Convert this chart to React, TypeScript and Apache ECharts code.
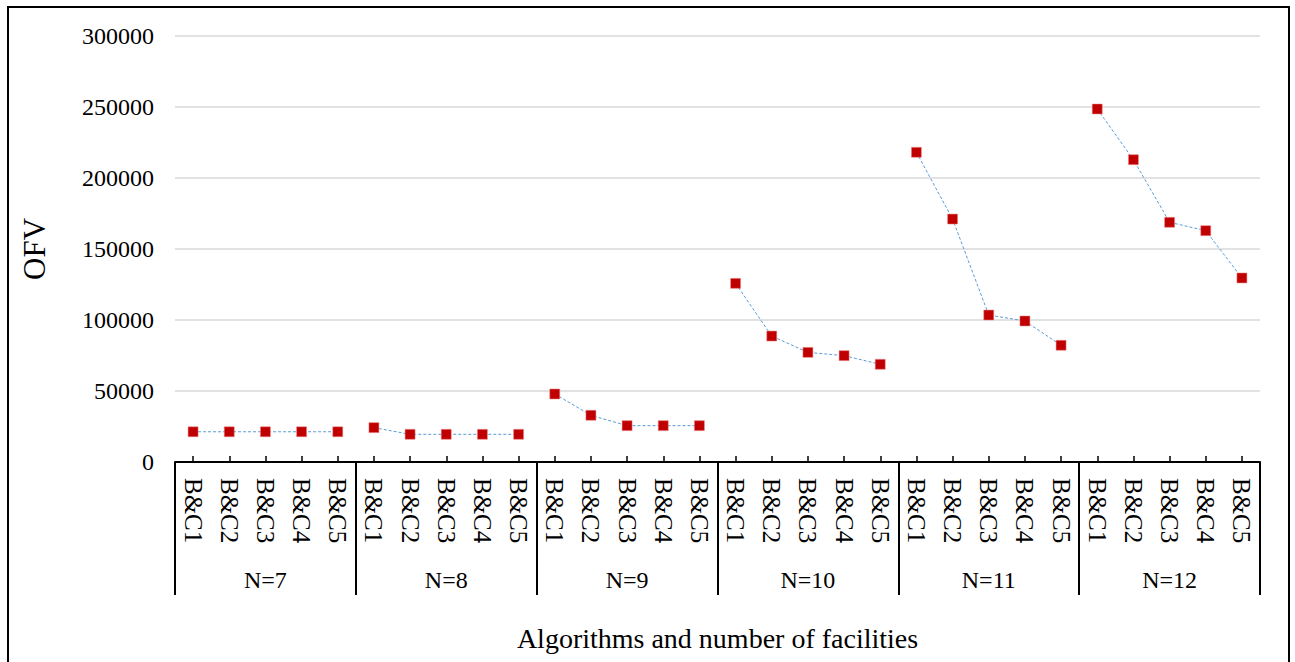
import React, { useEffect, useRef } from "react";
import * as echarts from "echarts";

const groups = ["N=7", "N=8", "N=9", "N=10", "N=11", "N=12"];
const algorithms = ["B&C1", "B&C2", "B&C3", "B&C4", "B&C5"];
const yTicks = { min: 0, max: 300000, interval: 50000 };

const n7 = [21300, 21300, 21300, 21300, 21300];
const n8 = [24200, 19500, 19500, 19500, 19500];
const n9 = [47900, 32900, 25600, 25600, 25600];
const n10 = [125800, 88700, 77200, 74900, 68800];
const n11 = [218100, 171100, 103500, 99300, 82200];
const n12 = [248600, 212900, 168800, 162900, 129600];
const groupValues = [n7, n8, n9, n10, n11, n12];

const FONT = "Liberation Serif";

export default function App() {
  const ref = useRef<HTMLDivElement>(null);
  useEffect(() => {
    if (!ref.current) return;
    const chart = echarts.init(ref.current, null, { renderer: "svg" });
    const categories: string[] = [];
    groups.forEach(() => algorithms.forEach((a) => categories.push(a)));
    const series = groupValues.map((vals, gi) => ({
      type: "line",
      name: groups[gi],
      xAxisIndex: 0,
      yAxisIndex: 0,
      data: vals.map((v, i) => [gi * algorithms.length + i, v]),
      symbol: "rect",
      symbolSize: 10,
      itemStyle: { color: "#c00000", borderColor: "#e88", borderWidth: 0.5 },
      lineStyle: { color: "#5b9bd5", width: 1, type: [3, 2] },
      z: 3,
    }));
    chart.setOption({
      animation: false,
      backgroundColor: "#fff",
      textStyle: { fontFamily: FONT },
      grid: { left: 175, right: 35, top: 36, bottom: 200, containLabel: false },
      xAxis: [
        {
          type: "category",
          position: "bottom",
          data: categories,
          boundaryGap: true,
          axisLine: { show: true, lineStyle: { color: "#000", width: 2 } },
          axisTick: {
            show: true,
            inside: true,
            length: 6,
            alignWithLabel: true,
            interval: 0,
            lineStyle: { color: "#000", width: 1.5 },
          },
          axisLabel: {
            interval: 0,
            rotate: -90,
            margin: 16,
            color: "#000",
            fontSize: 25,
            fontFamily: FONT,
          },
          splitLine: { show: false },
          name: "Algorithms and number of facilities",
          nameLocation: "middle",
          nameGap: 162,
          nameTextStyle: { color: "#000", fontSize: 28, fontFamily: FONT },
        },
        {
          type: "category",
          position: "bottom",
          offset: 0,
          data: groups,
          boundaryGap: true,
          axisLine: { show: false },
          axisTick: {
            show: true,
            inside: false,
            length: 133,
            interval: 0,
            lineStyle: { color: "#000", width: 2 },
          },
          axisLabel: {
            interval: 0,
            margin: 106,
            color: "#000",
            fontSize: 24,
            fontFamily: FONT,
          },
          splitLine: { show: false },
        },
      ],
      yAxis: {
        type: "value",
        min: yTicks.min,
        max: yTicks.max,
        interval: yTicks.interval,
        axisLine: { show: false },
        axisTick: { show: false },
        axisLabel: {
          color: "#000",
          fontSize: 24,
          fontFamily: FONT,
          margin: 21,
          formatter: (v: number) => String(v),
        },
        splitLine: { show: true, lineStyle: { color: "#d9d9d9", width: 1.5 } },
        name: "OFV",
        nameLocation: "middle",
        nameRotate: 90,
        nameGap: 125,
        nameTextStyle: { color: "#000", fontSize: 31, fontFamily: FONT },
      },
      graphic: [
        {
          type: "rect",
          shape: { x: 8, y: 7, width: 1281, height: 700 },
          style: { fill: "none", stroke: "#000", lineWidth: 2 },
          silent: true,
          z: 0,
        },
      ],
      series,
    });
    return () => chart.dispose();
  }, []);
  return (
    <div
      ref={ref}
      style={{ position: "fixed", left: 0, top: 0, width: 1295, height: 662 }}
    />
  );
}
